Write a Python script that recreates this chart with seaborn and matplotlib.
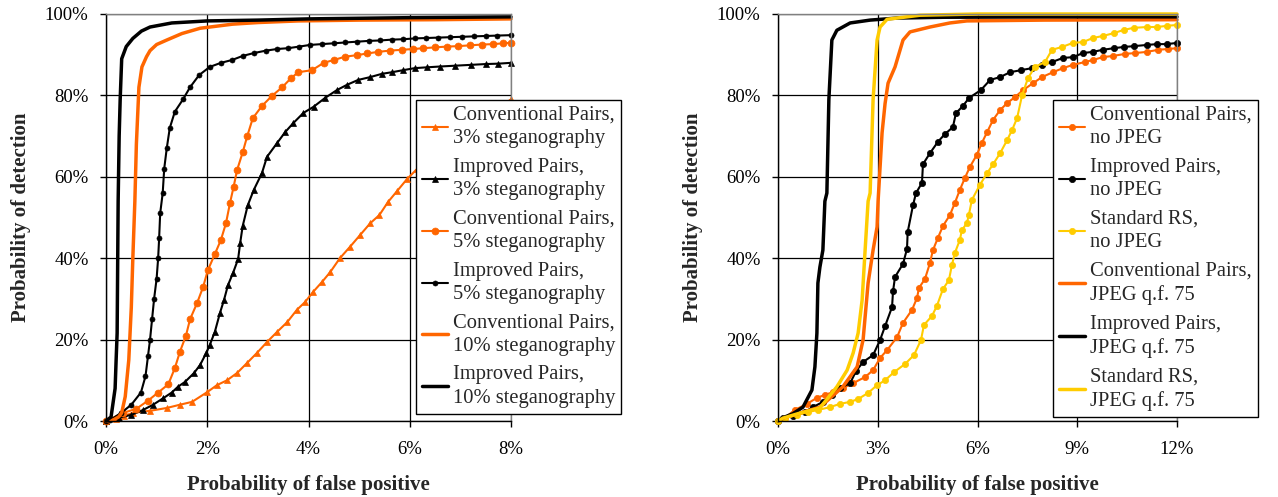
import numpy as np
import pandas as pd
import matplotlib
matplotlib.use("Agg")
import matplotlib.pyplot as plt
import seaborn as sns

# ---------------- data (percent) ----------------
# Left panel
conv3_x = [0, 0.2, 0.35, 0.53, 0.87, 1.2, 1.46, 1.7, 2.0, 2.19, 2.39, 2.59, 2.79, 2.98, 3.18, 3.38, 3.58, 3.77,
           3.93, 4.09, 4.27, 4.43, 4.62, 4.82, 5.02, 5.22, 5.4, 5.57, 5.75, 5.95, 6.15, 6.5, 7.0, 7.5, 8.0]
conv3_y = [0, 0.5, 1.2, 2.0, 2.5, 3.2, 4.0, 4.7, 7.1, 8.8, 10.0, 11.8, 14.3, 16.7, 19.4, 21.9, 24.3, 27.3,
           29.2, 31.7, 34.2, 36.6, 40.0, 42.8, 45.7, 48.6, 50.6, 53.8, 56.5, 59.5, 62.0, 66.0, 71.0, 75.0, 79.0]

imp3_x = [0, 0.25, 0.5, 0.73, 0.93, 1.13, 1.3, 1.42, 1.56, 1.74, 1.86, 1.98, 2.05, 2.15, 2.25, 2.33, 2.41,
          2.51, 2.61, 2.65, 2.7, 2.8, 2.92, 3.08, 3.18, 3.38, 3.54, 3.7, 3.9, 4.1, 4.33, 4.56, 4.76, 4.98,
          5.22, 5.45, 5.65, 5.87, 6.1, 6.34, 6.6, 6.9, 7.2, 7.5, 7.75, 8.0]
imp3_y = [0, 0.8, 1.5, 2.7, 4.0, 5.6, 7.0, 8.4, 9.6, 11.8, 13.8, 16.7, 18.7, 21.9, 26.5, 29.7, 33.4,
          36.4, 39.8, 43.7, 47.9, 53.0, 56.8, 60.9, 64.9, 68.3, 71.0, 73.2, 75.7, 77.2, 79.4, 81.3, 82.6, 83.8,
          84.5, 85.3, 85.7, 86.2, 86.7, 86.9, 87.1, 87.3, 87.5, 87.7, 87.8, 88.0]

conv5_x = [0, 0.34, 0.6, 0.83, 1.03, 1.23, 1.36, 1.46, 1.58, 1.66, 1.8, 1.92, 2.01, 2.15, 2.27, 2.37, 2.45,
           2.52, 2.59, 2.7, 2.79, 2.9, 3.08, 3.28, 3.48, 3.66, 3.8, 4.07, 4.3, 4.5, 4.72, 4.96, 5.16, 5.38,
           5.6, 5.84, 6.07, 6.27, 6.5, 6.74, 6.95, 7.19, 7.43, 7.65, 7.85, 8.0]
conv5_y = [0, 2, 3, 5, 7, 9, 13, 17, 21, 25, 29, 33, 37, 41, 44.5, 48.6, 53.6,
           57.5, 61.7, 66, 70, 74.4, 77.4, 79.9, 82, 84.3, 85.7, 86.2, 88.0, 88.7, 89.5, 89.9, 90.3, 90.7,
           91.0, 91.2, 91.4, 91.6, 91.8, 92.0, 92.1, 92.3, 92.5, 92.6, 92.8, 92.9]

imp5_x = [0, 0.08, 0.3, 0.5, 0.69, 0.78, 0.83, 0.87, 0.91, 0.95, 1.0, 1.03, 1.05, 1.07, 1.12, 1.15, 1.2,
          1.26, 1.36, 1.52, 1.66, 1.84, 2.05, 2.27, 2.49, 2.7, 2.92, 3.16, 3.38, 3.6, 3.82, 4.03, 4.26, 4.5,
          4.72, 4.96, 5.2, 5.42, 5.64, 5.87, 6.1, 6.33, 6.56, 6.8, 7.03, 7.26, 7.5, 7.73, 8.0]
imp5_y = [0, 0.2, 2, 4, 7, 11, 16, 20, 25, 30, 35, 40, 45, 51, 56, 62, 67,
          72, 76, 79, 82, 85, 87, 88, 88.7, 89.7, 90.4, 91.0, 91.4, 91.6, 92.0, 92.4, 92.6, 92.8,
          93.0, 93.2, 93.4, 93.5, 93.7, 93.8, 94.0, 94.1, 94.2, 94.3, 94.4, 94.5, 94.6, 94.7, 94.8]

conv10_x = [0, 0.15, 0.25, 0.31, 0.38, 0.45, 0.5, 0.53, 0.57, 0.6, 0.65, 0.71, 0.8, 0.87, 1.0, 1.2, 1.5,
            1.86, 2.5, 3.0, 3.8, 5.0, 6.5, 8.0]
conv10_y = [0, 0.3, 1.0, 2.0, 6, 15, 28, 40, 54, 68, 82, 87, 89.5, 91, 92.5, 93.6, 95.2,
            96.5, 97.5, 97.9, 98.3, 98.5, 98.6, 98.8]

imp10_x = [0, 0.1, 0.18, 0.2, 0.22, 0.24, 0.26, 0.28, 0.31, 0.4, 0.53, 0.7, 0.87, 1.3, 2.0, 3.0, 4.0, 6.0, 8.0]
imp10_y = [0, 1, 8, 15, 21.6, 54, 70, 79, 89, 92, 94, 95.8, 96.8, 97.8, 98.3, 98.5, 98.8, 99.1, 99.3]

# Right panel
convn_x = [0, 0.2, 0.5, 0.87, 1.17, 1.41, 1.65, 1.95, 2.26, 2.62, 2.86, 3.07, 3.28, 3.58, 3.76, 4.03, 4.18,
           4.24, 4.42, 4.57, 4.66, 4.81, 4.96, 5.17, 5.32, 5.47, 5.62, 5.77, 5.98, 6.13, 6.29, 6.47, 6.68,
           6.89, 7.13, 7.37, 7.67, 7.94, 8.27, 8.57, 8.87, 9.23, 9.47, 9.77, 10.08, 10.44, 10.74, 11.1,
           11.43, 11.73, 12.0]
convn_y = [0, 0.7, 2.7, 4.2, 5.7, 6.4, 7.1, 8.1, 9.3, 10.8, 12.5, 15.5, 17.4, 20.6, 24.1, 27.3, 30.2,
           32.7, 34.9, 38.8, 42.0, 45.0, 47.9, 50.6, 53.6, 56.8, 59.7, 62.4, 65.4, 68.3, 71.0, 74.0, 76.4,
           78.1, 79.6, 81.3, 83.0, 84.5, 85.7, 86.7, 87.5, 88.2, 88.7, 89.4, 89.7, 90.2, 90.4, 90.7,
           91.2, 91.4, 91.6]

impn_x = [0, 0.15, 0.45, 0.8, 1.05, 1.35, 1.62, 1.86, 2.17, 2.35, 2.56, 2.86, 3.07, 3.22, 3.43, 3.46, 3.52,
          3.76, 3.88, 3.9, 4.06, 4.15, 4.33, 4.36, 4.57, 4.81, 5.02, 5.26, 5.35, 5.56, 5.75, 6.1, 6.38,
          6.68, 6.98, 7.31, 7.64, 7.94, 8.24, 8.57, 8.87, 9.17, 9.47, 9.77, 10.1, 10.4, 10.7, 11.1, 11.4,
          11.7, 12.0]
impn_y = [0, 0.7, 1.2, 2.2, 3.4, 4.7, 6.4, 8.1, 9.3, 12.3, 14.5, 16.2, 19.9, 23.3, 28.0, 31.9, 35.4,
          38.6, 42.3, 46.4, 53.0, 56.0, 58.5, 63.1, 65.8, 68.6, 70.5, 72.2, 75.6, 77.4, 79.4, 81.3, 83.8,
          84.5, 85.7, 86.2, 86.7, 87.5, 88.2, 89.2, 89.4, 90.4, 90.7, 91.2, 91.6, 91.9, 92.1, 92.4, 92.6,
          92.6, 92.9]

stdn_x = [0, 0.2, 0.57, 0.9, 1.2, 1.56, 1.86, 2.17, 2.41, 2.71, 2.98, 3.22, 3.49, 3.82, 4.09, 4.3, 4.39,
          4.63, 4.78, 4.96, 5.14, 5.23, 5.32, 5.47, 5.53, 5.68, 5.74, 5.83, 6.07, 6.29, 6.47, 6.68, 6.89,
          7.04, 7.19, 7.34, 7.52, 7.73, 8.03, 8.24, 8.54, 8.87, 9.17, 9.47, 9.77, 10.1, 10.4, 10.7, 11.1,
          11.4, 11.7, 12.0]
stdn_y = [0, 0.7, 1.5, 2.2, 2.7, 3.4, 4.2, 4.7, 5.4, 6.9, 8.8, 10.0, 12.0, 14.0, 16.2, 19.9, 23.6,
          25.8, 28.3, 32.4, 34.6, 38.3, 41.3, 44.5, 46.9, 48.6, 50.6, 54.3, 58.0, 60.9, 63.1, 65.8, 69.0,
          71.5, 74.4, 80.0, 84.3, 87.0, 88.2, 91.2, 91.9, 92.9, 93.1, 94.1, 94.6, 95.3, 96.1, 96.6, 96.8,
          96.8, 97.1, 97.3]

convj_x = [0, 0.15, 0.6, 1.26, 1.95, 2.38, 2.56, 2.71, 2.86, 2.98, 3.01, 3.13, 3.22, 3.31, 3.52, 3.76,
           3.97, 4.57, 5.17, 5.68, 8.0, 12.0]
convj_y = [0, 0.7, 1.8, 3.4, 8.4, 13.3, 20.0, 33.9, 42.0, 47.7, 54.0, 70.8, 78.0, 83.0, 87.0, 93.6,
           95.6, 96.8, 97.8, 98.3, 98.5, 98.6]

impj_x = [0, 0.12, 0.45, 0.75, 1.02, 1.11, 1.17, 1.2, 1.26, 1.35, 1.41, 1.47, 1.53, 1.62, 1.77, 2.17,
          2.77, 3.58, 5.0, 8.0, 12.0]
impj_y = [0, 0.7, 1.8, 3.4, 7.6, 13.3, 21.6, 33.9, 37.8, 42.0, 54.0, 56.0, 79.0, 93.6, 96.0, 97.8,
          98.5, 99.0, 99.2, 99.3, 99.3]

stdj_x = [0, 0.15, 0.6, 1.26, 1.77, 2.08, 2.26, 2.41, 2.53, 2.62, 2.71, 2.77, 2.86, 2.98, 3.07, 3.28,
          4.27, 6.0, 9.0, 12.0]
stdj_y = [0, 0.7, 1.8, 3.2, 8.4, 12.5, 16.7, 21.6, 29.7, 42.0, 54.0, 56.0, 79.0, 93.6, 96.8, 98.7,
          99.7, 100, 100, 100]

left_labels = ["Conventional Pairs,\n3% steganography", "Improved Pairs,\n3% steganography",
               "Conventional Pairs,\n5% steganography", "Improved Pairs,\n5% steganography",
               "Conventional Pairs,\n10% steganography", "Improved Pairs,\n10% steganography"]
right_labels = ["Conventional Pairs,\nno JPEG", "Improved Pairs,\nno JPEG", "Standard RS,\nno JPEG",
                "Conventional Pairs,\nJPEG q.f. 75", "Improved Pairs,\nJPEG q.f. 75", "Standard RS,\nJPEG q.f. 75"]

left_xticks = [0, 2, 4, 6, 8]
right_xticks = [0, 3, 6, 9, 12]
yticks = [0, 20, 40, 60, 80, 100]

x_label = "Probability of false positive"
y_label = "Probability of detection"

# ---------------- style ----------------
sns.set_theme(style="white")
plt.rcParams['font.family'] = ['Liberation Serif', 'DejaVu Serif']
ORANGE = "#FF6600"
YELLOW = "#FFCC00"
BLACK = "#000000"

fig = plt.figure(figsize=(12.78, 4.97), dpi=100)
axL = fig.add_axes([106/1278, 1-421/497, (511-106)/1278, (421-14)/497])
axR = fig.add_axes([778/1278, 1-421/497, (1177-778)/1278, (421-14)/497])


def draw(ax, x, y, color, label, lw, marker=None, ms=0):
    kw = dict(color=color, lw=lw, label=label, sort=False, estimator=None, ax=ax)
    if marker:
        kw.update(marker=marker, markersize=ms, markeredgecolor=color, markerfacecolor=color, markeredgewidth=0.5)
    return sns.lineplot(x=np.array(x), y=np.array(y), **kw)


# left
draw(axL, conv3_x, conv3_y, ORANGE, left_labels[0], 1.5, "^", 4.5)
draw(axL, imp3_x, imp3_y, BLACK, left_labels[1], 1.5, "^", 4.5)
draw(axL, conv5_x, conv5_y, ORANGE, left_labels[2], 1.5, "o", 5)
draw(axL, imp5_x, imp5_y, BLACK, left_labels[3], 1.5, "o", 3.6)
draw(axL, conv10_x, conv10_y, ORANGE, left_labels[4], 2.5)
draw(axL, imp10_x, imp10_y, BLACK, left_labels[5], 2.5)

# right
draw(axR, convn_x, convn_y, ORANGE, right_labels[0], 1.5, "o", 4.5)
draw(axR, impn_x, impn_y, BLACK, right_labels[1], 1.5, "o", 4.5)
draw(axR, stdn_x, stdn_y, YELLOW, right_labels[2], 1.5, "o", 4.5)
draw(axR, convj_x, convj_y, ORANGE, right_labels[3], 2.5)
draw(axR, impj_x, impj_y, BLACK, right_labels[4], 2.5)
draw(axR, stdj_x, stdj_y, YELLOW, right_labels[5], 2.5)


def style(ax, xticks, xmax, leg_x):
    ax.set_xlim(0, xmax)
    ax.set_ylim(0, 100)
    ax.set_xticks(xticks)
    ax.set_xticklabels([f"{t}%" for t in xticks])
    ax.set_yticks(yticks)
    ax.set_yticklabels([f"{t}%" for t in yticks])
    ax.grid(True, color="black", lw=0.9)
    ax.set_axisbelow(True)
    for ln in ax.get_lines():
        ln.set_clip_on(False)
    for s in ["left", "bottom"]:
        ax.spines[s].set_color("black")
        ax.spines[s].set_linewidth(1.0)
    for s in ["top", "right"]:
        ax.spines[s].set_color("#808080")
        ax.spines[s].set_linewidth(1.0)
    ax.tick_params(axis="both", direction="out", length=4.5, width=1, colors="black",
                   labelsize=13.5, bottom=True, left=True, pad=8)
    ax.tick_params(axis="x", pad=10)
    ax.set_xlabel(x_label, fontsize=15, fontweight="bold", labelpad=12)
    ax.set_ylabel(y_label, fontsize=15, fontweight="bold", labelpad=10)
    handles, labels = ax.get_legend_handles_labels()
    leg = ax.legend(handles, labels, loc="upper left", bbox_to_anchor=(leg_x, 0.789),
                    fontsize=14.8, frameon=True, fancybox=False, framealpha=1, edgecolor="black",
                    handlelength=1.25, handletextpad=0.25, labelspacing=0.47, borderpad=0.3,
                    borderaxespad=0, numpoints=1)
    for t in leg.get_texts():
        t.set_linespacing(1.3)
    leg.get_frame().set_linewidth(1.0)
    leg.set_zorder(10)


style(axL, left_xticks, 8, 0.765)
style(axR, right_xticks, 12, 0.689)

fig.savefig("out.png", dpi=100)
